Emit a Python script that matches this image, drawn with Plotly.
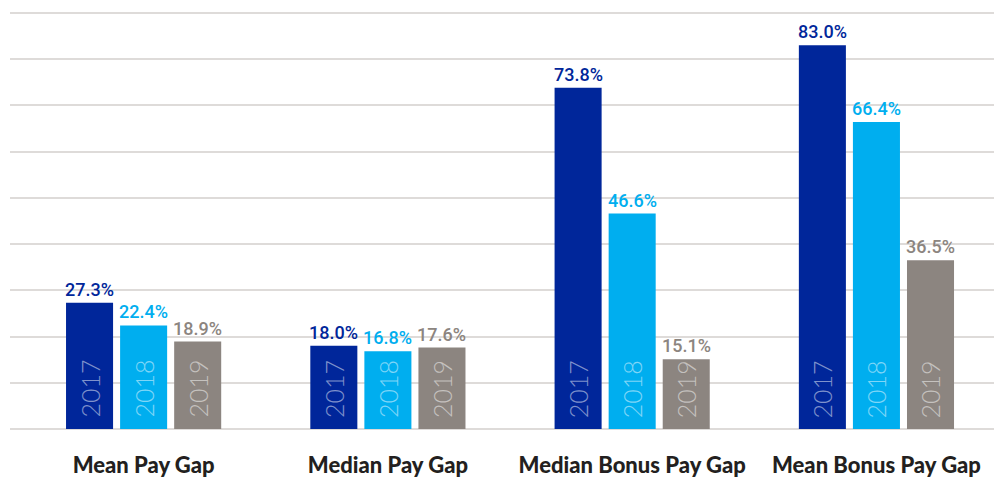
import plotly.graph_objects as go

categories = ["Mean Pay Gap", "Median Pay Gap", "Median Bonus Pay Gap", "Mean Bonus Pay Gap"]
years = ["2017", "2018", "2019"]
values_2017 = [27.3, 18.0, 73.8, 83.0]
values_2018 = [22.4, 16.8, 46.6, 66.4]
values_2019 = [18.9, 17.6, 15.1, 36.5]
series = [values_2017, values_2018, values_2019]
colors = ["#00269A", "#00AEEF", "#8C8580"]

fig = go.Figure()
for yr, vals, col in zip(years, series, colors):
    fig.add_trace(go.Bar(x=categories, y=vals, name=yr, marker=dict(color=col, line=dict(width=0)),
                         hoverinfo="skip"))

annotations = []
slot = 54
for i, (yr, vals, col) in enumerate(zip(years, series, colors)):
    shift = (i - 1) * slot
    for c, v in zip(categories, vals):
        annotations.append(dict(x=c, y=v, xref="x", yref="y", xshift=shift, yshift=1,
                                text=f"{v:.1f}%", showarrow=False, yanchor="bottom",
                                font=dict(family="Roboto, sans-serif", size=18, color=col, weight=500)))
        annotations.append(dict(x=c, y=0, xref="x", yref="y", xshift=shift, yshift=9,
                                text=yr, showarrow=False, yanchor="bottom", textangle=-90,
                                font=dict(family="Lato, sans-serif", size=25,
                                          color="rgba(255,255,255,0.5)", weight=300)))

fig.update_layout(
    width=994, height=471,
    margin=dict(l=2, r=0, t=3, b=50, autoexpand=False),
    paper_bgcolor="white", plot_bgcolor="white",
    barmode="group", bargap=0.336, bargroupgap=0.13,
    showlegend=False,
    annotations=annotations,
    xaxis=dict(range=[-0.547, 3.514], showgrid=False, showline=False, zeroline=False,
               ticks="", ticklabelstandoff=21, automargin=False,
               tickfont=dict(family="Lato, sans-serif", size=22, color="#231F20", weight=900)),
    yaxis=dict(range=[0, 90.4], tickvals=[0, 10, 20, 30, 40, 50, 60, 70, 80, 90],
               showticklabels=False, showgrid=True, automargin=False,
               gridcolor="#DEDBD9", gridwidth=2, zeroline=True, zerolinecolor="#DEDBD9",
               zerolinewidth=2, showline=False),
)
fig.write_html("out.html")
